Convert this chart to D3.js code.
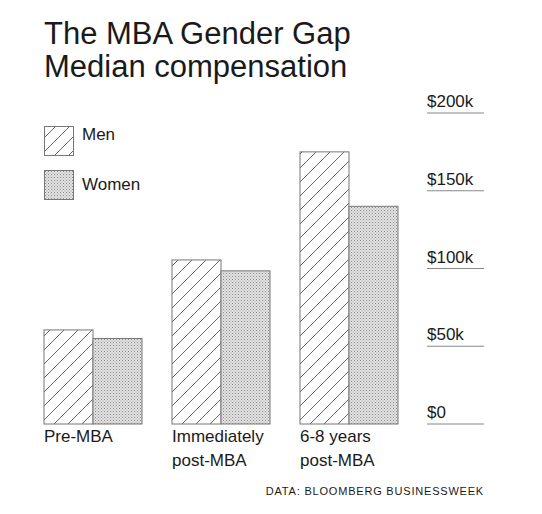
<!DOCTYPE html>
<html><head><meta charset="utf-8">
<script src="https://cdn.jsdelivr.net/npm/d3@7"></script>
<style>body{margin:0;background:#fff}text{font-family:"Liberation Sans",Arial,sans-serif;fill:#1a1a1a}</style>
</head><body><svg id="c" width="542" height="514"></svg>
<script>
const categories = [["Pre-MBA"], ["Immediately", "post-MBA"], ["6-8 years", "post-MBA"]];
const series = ["Men", "Women"];
const menValues = [60.5, 105.5, 175];
const womenValues = [55, 98.5, 140];
const ticks = [0, 50, 100, 150, 200];
const tickLabels = ["$0", "$50k", "$100k", "$150k", "$200k"];

const svg = d3.select('#c');
const defs = svg.append('defs');
const hatch = defs.append('pattern').attr('id', 'hatch').attr('patternUnits', 'userSpaceOnUse')
    .attr('width', 14).attr('height', 14);
hatch.append('path').attr('d', 'M-2,16 L16,-2 M-2,2 L2,-2 M12,16 L16,12').attr('stroke', '#666').attr('stroke-width', 1);
const dots = defs.append('pattern').attr('id', 'dots').attr('patternUnits', 'userSpaceOnUse')
    .attr('width', 3).attr('height', 3);
dots.append('rect').attr('width', 3).attr('height', 3).attr('fill', '#e2e2e2');
dots.append('rect').attr('width', 1).attr('height', 1).attr('fill', '#8a8a8a');
dots.append('rect').attr('x', 1.5).attr('y', 1.5).attr('width', 1).attr('height', 1).attr('fill', '#a5a5a5');
const fills = {Men: 'url(#hatch)', Women: 'url(#dots)'};

const y = d3.scaleLinear().domain([0, 200]).range([424, 113]);
const x = d3.scaleBand().domain(d3.range(categories.length)).range([44, 428]);
const xs = d3.scaleBand().domain(series).range([0, 98]);

svg.append('text').attr('x', 44).attr('y', 44).attr('font-size', 31).text('The MBA Gender Gap');
svg.append('text').attr('x', 44).attr('y', 77).attr('font-size', 31).text('Median compensation');

// grid + labels
const g = svg.append('g');
ticks.forEach((t, i) => {
    g.append('line').attr('x1', 427).attr('x2', 484).attr('y1', y(t)).attr('y2', y(t))
        .attr('stroke', '#888').attr('stroke-width', 1.2);
    g.append('text').attr('x', 427).attr('y', y(t) - 6).attr('font-size', 17).text(tickLabels[i]);
});

// bars
const data = categories.map((c, i) => ({i, Men: menValues[i], Women: womenValues[i]}));
const grp = svg.selectAll('.grp').data(data).enter().append('g')
    .attr('transform', d => `translate(${x(d.i)},0)`);
grp.selectAll('rect').data(d => series.map(s => ({s, v: d[s]}))).enter().append('rect')
    .attr('x', d => xs(d.s)).attr('width', xs.bandwidth())
    .attr('y', d => y(d.v)).attr('height', d => y(0) - y(d.v))
    .attr('fill', d => fills[d.s]).attr('stroke', '#777').attr('stroke-width', 1);
grp.each(function(d) {
    const t = d3.select(this).append('text').attr('font-size', 17);
    categories[d.i].forEach((line, k) => t.append('tspan').attr('x', 0).attr('y', 442 + k * 24).text(line));
});

// legend
series.forEach((s, i) => {
    svg.append('rect').attr('x', 44.5).attr('y', 126.5 + i * 44).attr('width', 29).attr('height', 29)
        .attr('fill', fills[s]).attr('stroke', '#777');
    svg.append('text').attr('x', 82).attr('y', 140 + i * 50).attr('font-size', 17).text(s);
});

svg.append('text').attr('x', 484).attr('y', 495).attr('text-anchor', 'end')
    .attr('font-size', 11).attr('letter-spacing', 0.8).attr('fill', '#333').text('DATA: BLOOMBERG BUSINESSWEEK');
</script></body></html>
